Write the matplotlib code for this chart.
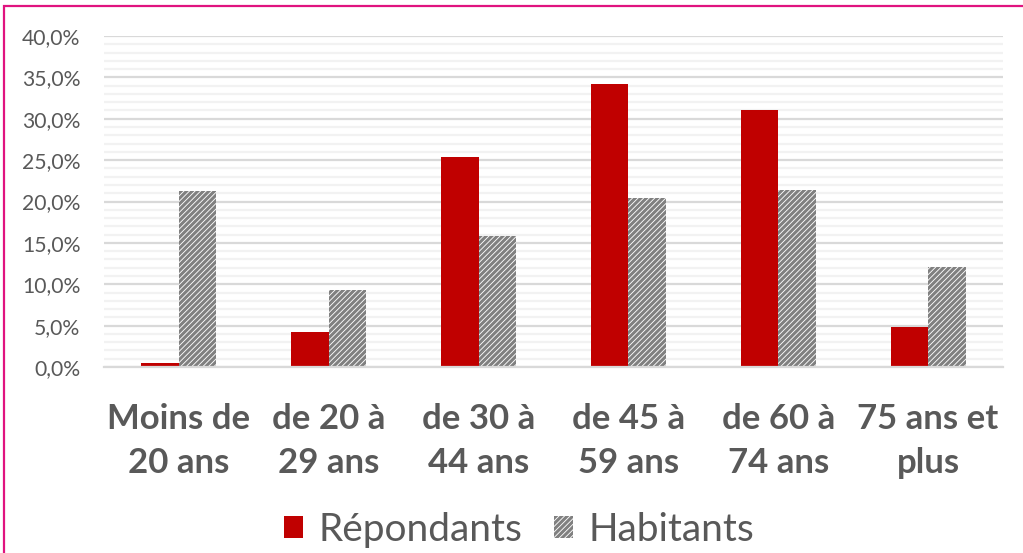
import matplotlib
matplotlib.use("Agg")
import matplotlib.pyplot as plt
import numpy as np
from matplotlib.patches import Rectangle, Patch
from matplotlib.ticker import FuncFormatter, MultipleLocator

categories = ["Moins de\n20 ans", "de 20 à\n29 ans", "de 30 à\n44 ans",
              "de 45 à\n59 ans", "de 60 à\n74 ans", "75 ans et\nplus"]
repondants = [0.5, 4.2, 25.4, 34.2, 31.1, 4.8]
habitants = [21.3, 9.3, 15.8, 20.4, 21.4, 12.1]
series_labels = ["Répondants", "Habitants"]

plt.rcParams['font.family'] = ['Lato', 'DejaVu Sans']
plt.rcParams['hatch.color'] = '#808080'
plt.rcParams['hatch.linewidth'] = 2.2

TXT = '#595959'
fig = plt.figure(figsize=(10.23, 5.53), dpi=100)
ax = fig.add_axes([104/1023, 1-367/553, (1003-104)/1023, (367-36)/553])

x = np.arange(len(categories))
w = 0.25
ax.bar(x - w/2, repondants, w, color='#C00000', label=series_labels[0], zorder=3)
ax.bar(x + w/2, habitants, w, color='white', edgecolor='#808080', linewidth=0,
       hatch='//////', label=series_labels[1], zorder=3)

ax.set_xlim(-0.5, len(categories) - 0.5)
ax.set_ylim(0, 40)
ax.yaxis.set_major_locator(MultipleLocator(5))
ax.yaxis.set_minor_locator(MultipleLocator(1))
ax.yaxis.set_major_formatter(FuncFormatter(lambda v, p: f"{v:.1f}%".replace('.', ',')))
ax.grid(axis='y', which='major', color='#D9D9D9', linewidth=1.6, zorder=0)
ax.grid(axis='y', which='minor', color='#F2F2F2', linewidth=1.6, zorder=0)
for s in ['top', 'right', 'left']:
    ax.spines[s].set_visible(False)
ax.spines['bottom'].set_color('#D9D9D9')
ax.spines['bottom'].set_linewidth(1.6)
ax.spines['bottom'].set_zorder(4)
ax.tick_params(axis='both', which='both', length=0)
ax.tick_params(axis='y', labelsize=15.2, labelcolor=TXT, pad=17)
ax.set_xticks(x)
ax.set_xticklabels(categories, fontsize=25, fontweight='bold', color=TXT,
                   linespacing=1.45)
ax.tick_params(axis='x', pad=26)

handles = [Patch(facecolor='#C00000', label=series_labels[0]),
           Patch(facecolor='white', edgecolor='#808080', linewidth=0, hatch='//////',
                 label=series_labels[1])]
leg = fig.legend(handles=handles, loc='center', bbox_to_anchor=(519/1023, 1-530/553),
                 ncol=2, frameon=False, fontsize=28, handlelength=0.5, handleheight=0.5,
                 handletextpad=0.4, columnspacing=0.8)
for t in leg.get_texts():
    t.set_color(TXT)

fig.patches.append(Rectangle((4/1023, -0.05), 1.1, 1.05 - 6/553, transform=fig.transFigure,
                             fill=False, edgecolor='#E0137F', linewidth=1.6, figure=fig))

fig.savefig('out.png', dpi=100)
